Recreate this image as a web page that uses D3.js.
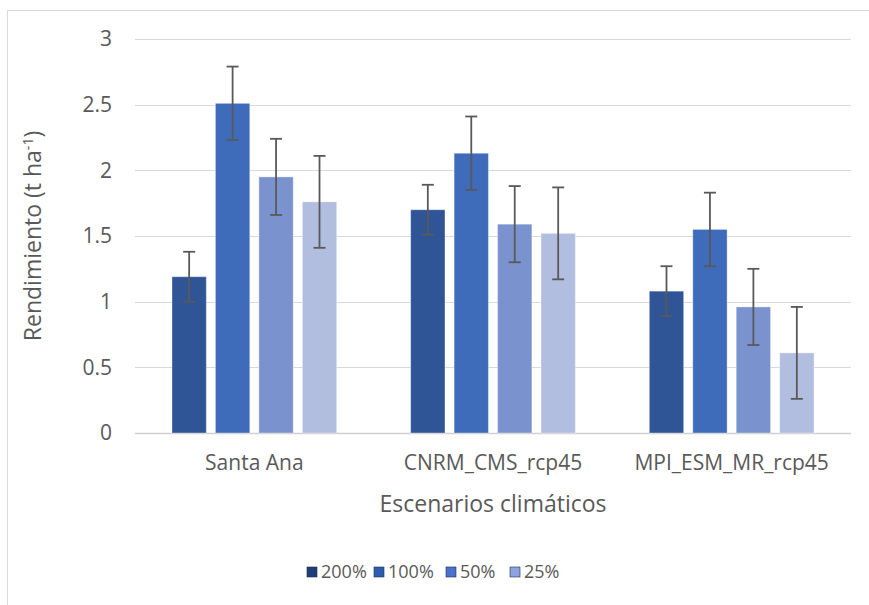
<!DOCTYPE html>
<html>
<head>
<meta charset="utf-8">
<script src="https://cdn.jsdelivr.net/npm/d3@7"></script>
<style>
  body { margin: 0; background: #fff; }
  text { font-family: "Open Sans", "Noto Sans", sans-serif; fill: #595959; }
</style>
</head>
<body>
<div id="chart"></div>
<script>
// data
var escenarios = ["Santa Ana", "CNRM_CMS_rcp45", "MPI_ESM_MR_rcp45"];
var series = ["200%", "100%", "50%", "25%"];
var v200 = [1.19, 1.70, 1.08];
var v100 = [2.51, 2.13, 1.55];
var v50 = [1.95, 1.59, 0.96];
var v25 = [1.76, 1.52, 0.61];
var errs = [0.19, 0.28, 0.29, 0.35];
var yTicks = [0, 0.5, 1, 1.5, 2, 2.5, 3];

var barColors = ["#2F5597", "#3E6BBA", "#7A93CF", "#B2BEE0"];
var legendColors = ["#1F3E74", "#2D5EAE", "#4A72C8", "#8EA2DD"];

var width = 869, height = 605;
var margin = { top: 39, right: 18, bottom: 172, left: 135 },
    w = width - margin.left - margin.right,
    h = height - margin.top - margin.bottom;

var svg = d3.select("#chart").append("svg").attr("width", width).attr("height", height);

// frame of the chart area (cropped on the right/bottom)
svg.append("path").attr("d", "M7.5,605V10.5H869").attr("fill", "none").attr("stroke", "#d9d9d9").attr("stroke-width", 1);

var g = svg.append("g").attr("transform", "translate(" + margin.left + "," + margin.top + ")");

var values = [v200, v100, v50, v25];
var rows = [];
for (var i = 0; i < escenarios.length; i++) {
    for (var s = 0; s < series.length; s++) {
        rows.push({ cat: escenarios[i], ser: series[s], si: s, v: values[s][i], e: errs[s] });
    }
}

var y = d3.scaleLinear().domain([0, 3]).range([h, 0]);
var x0 = d3.scaleBand().domain(escenarios).range([0, w]).paddingInner(0.31).paddingOuter(0.155);
var x1 = d3.scaleBand().domain(series).range([0, x0.bandwidth()]).paddingInner(0.21).paddingOuter(0);

// gridlines
g.append("g").selectAll("line").data(yTicks).enter().append("line")
    .attr("x1", 0).attr("x2", w)
    .attr("y1", function(d) { return Math.round(y(d)) + 0.5; })
    .attr("y2", function(d) { return Math.round(y(d)) + 0.5; })
    .attr("stroke", function(d) { return d === 0 ? "#d0d0d0" : "#d9d9d9"; })
    .attr("stroke-width", function(d) { return d === 0 ? 1.5 : 1; });

// y axis labels
var yAxis = d3.axisLeft(y).tickValues(yTicks).tickSize(0).tickPadding(23).tickFormat(function(d) { return d; });
g.append("g").call(yAxis).call(function(a) {
    a.select(".domain").remove();
    a.selectAll("text").style("font-size", "21px").attr("fill", "#595959");
});

// bars
g.append("g").selectAll("rect").data(rows).enter().append("rect")
    .attr("x", function(d) { return x0(d.cat) + x1(d.ser); })
    .attr("y", function(d) { return y(d.v); })
    .attr("width", x1.bandwidth())
    .attr("height", function(d) { return h - y(d.v); })
    .attr("fill", function(d) { return barColors[d.si]; })
    .attr("stroke", "#ffffff").attr("stroke-opacity", 0.35).attr("stroke-width", 1);

// error bars
var eb = g.append("g").selectAll("g").data(rows).enter().append("g")
    .attr("stroke", "#595959").attr("stroke-width", 1.8);
eb.append("line")
    .attr("x1", function(d) { return x0(d.cat) + x1(d.ser) + x1.bandwidth() / 2; })
    .attr("x2", function(d) { return x0(d.cat) + x1(d.ser) + x1.bandwidth() / 2; })
    .attr("y1", function(d) { return y(d.v + d.e); })
    .attr("y2", function(d) { return y(d.v - d.e); });
[1, -1].forEach(function(sign) {
    eb.append("line")
        .attr("x1", function(d) { return x0(d.cat) + x1(d.ser) + x1.bandwidth() / 2 - 6; })
        .attr("x2", function(d) { return x0(d.cat) + x1(d.ser) + x1.bandwidth() / 2 + 6; })
        .attr("y1", function(d) { return y(d.v + sign * d.e); })
        .attr("y2", function(d) { return y(d.v + sign * d.e); });
});

// x axis labels
var xAxis = d3.axisBottom(x0).tickSize(0).tickPadding(22);
g.append("g").attr("transform", "translate(0," + h + ")").call(xAxis).call(function(a) {
    a.select(".domain").remove();
    a.selectAll("text").style("font-size", "21px").attr("fill", "#595959");
});

// axis titles
svg.append("text").attr("x", margin.left + w / 2).attr("y", 512).attr("text-anchor", "middle")
    .style("font-size", "23px").text("Escenarios climáticos");

var yt = svg.append("text").attr("transform", "translate(41," + (margin.top + h / 2) + ") rotate(-90)")
    .attr("text-anchor", "middle").style("font-size", "23px");
yt.append("tspan").text("Rendimiento (t ha");
yt.append("tspan").attr("dy", -8).style("font-size", "14px").text("-1");
yt.append("tspan").attr("dy", 8).text(")");

// legend
var legX = [307, 374, 446, 510];
var leg = svg.append("g").selectAll("g").data(series).enter().append("g")
    .attr("transform", function(d, i) { return "translate(" + legX[i] + ",567)"; });
leg.append("rect").attr("width", 10).attr("height", 10)
    .attr("fill", function(d, i) { return legendColors[i]; })
    .attr("stroke", "#1a2f5a").attr("stroke-width", 0.6);
leg.append("text").attr("x", 14).attr("y", 11).style("font-size", "18px").text(function(d) { return d; });
</script>
</body>
</html>
